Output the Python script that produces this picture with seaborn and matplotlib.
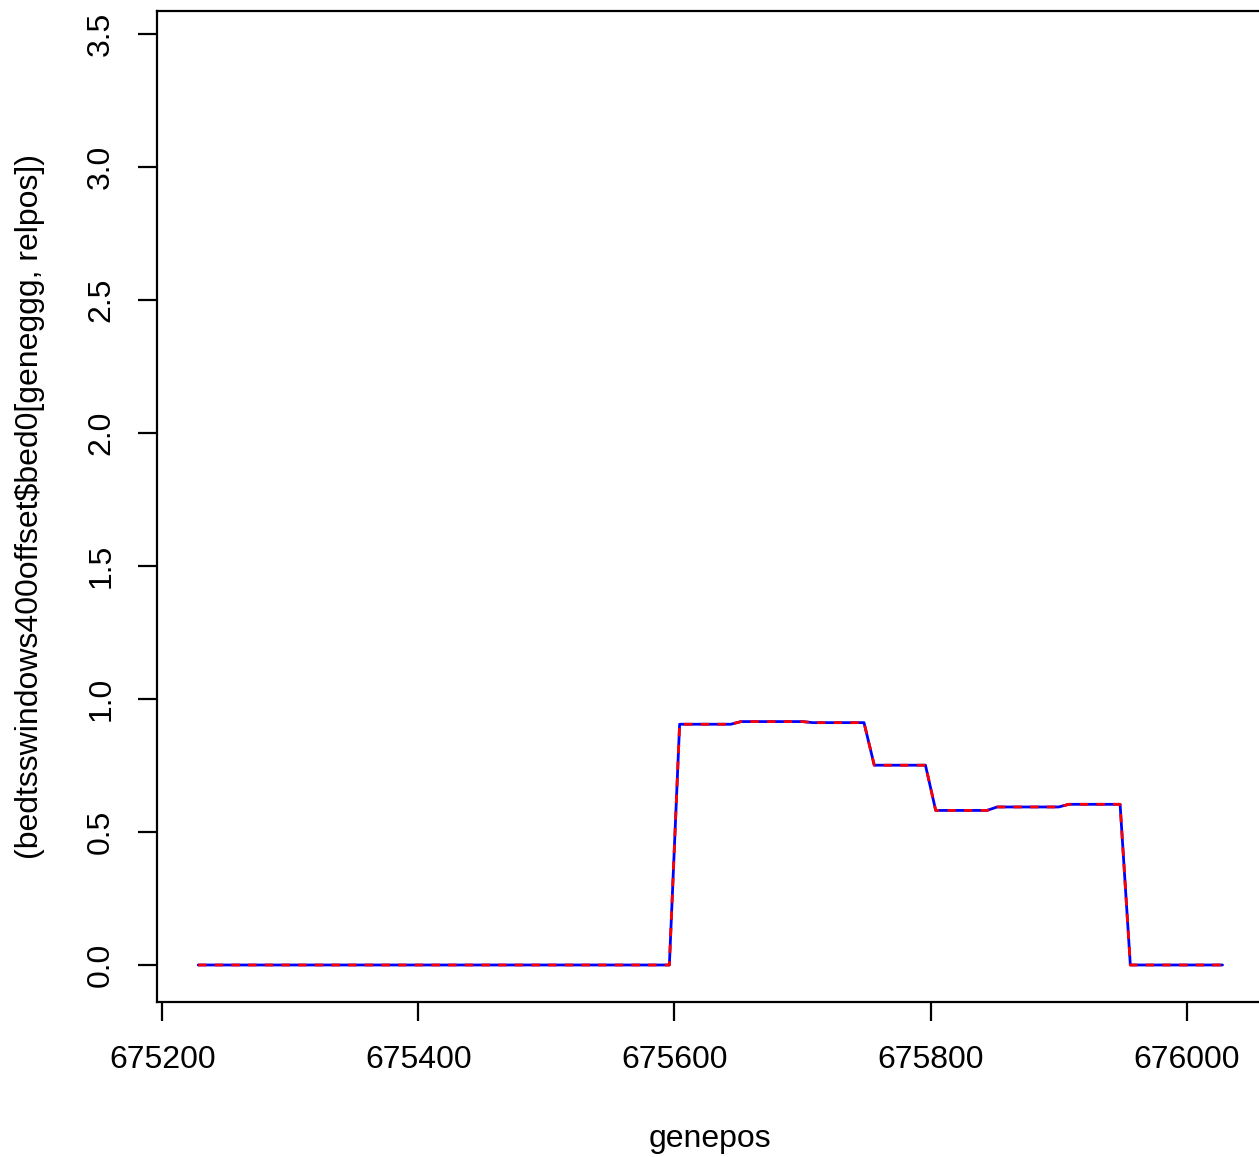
import matplotlib
matplotlib.use('Agg')
import matplotlib.pyplot as plt
import seaborn as sns
import numpy as np
import pandas as pd

# positions sampled every 8 bp
start_pos = 675228
step_bp = 8
n_points = 101

# signal: (value, number of points)
run_values = [0.0, 0.905, 0.915, 0.911, 0.751, 0.581, 0.594, 0.604, 0.0]
run_counts = [47, 6, 7, 6, 6, 6, 7, 6, 10]

genepos = start_pos + step_bp * np.arange(n_points)
signal = np.repeat(run_values, run_counts)
df = pd.DataFrame({'genepos': genepos, 'signal': signal})

sns.set_style('ticks')
plt.rcParams['font.family'] = ['Liberation Sans', 'DejaVu Sans']
plt.rcParams['text.color'] = 'black'
plt.rcParams['axes.labelcolor'] = 'black'
plt.rcParams['xtick.color'] = 'black'
plt.rcParams['ytick.color'] = 'black'

fig = plt.figure(figsize=(12.59, 11.57), dpi=100)
ax = fig.add_axes([157.2 / 1259, 1 - 1001.7 / 1157, 1106.3 / 1259, 990.4 / 1157])

sns.lineplot(data=df, x='genepos', y='signal', ax=ax, color='#0000FF', linewidth=2.0)
sns.lineplot(data=df, x='genepos', y='signal', ax=ax, color='#FF0000', linewidth=2.0, linestyle='--')
ax.lines[-1].set_dashes([3.0, 3.0])

ax.set_xlim(675196, 676060)
ax.set_ylim(-0.138, 3.585)
ax.set_xticks([675200, 675400, 675600, 675800, 676000])
ax.set_yticks([0.0, 0.5, 1.0, 1.5, 2.0, 2.5, 3.0, 3.5])
ax.set_yticklabels(['0.0', '0.5', '1.0', '1.5', '2.0', '2.5', '3.0', '3.5'],
                   rotation=90, va='center')

for s in ax.spines.values():
    s.set_linewidth(1.6)
    s.set_color('black')
ax.tick_params(length=13.5, width=1.6, labelsize=23, color='black', labelcolor='black')
ax.tick_params(axis='x', pad=18)
ax.tick_params(axis='y', pad=16)

ax.set_xlabel('genepos', fontsize=23, labelpad=35, color='black')
ax.set_ylabel('(bedtsswindows400offset$bed0[geneggg, relpos])', fontsize=23, labelpad=30, color='black')

fig.savefig('out.png', dpi=100)
